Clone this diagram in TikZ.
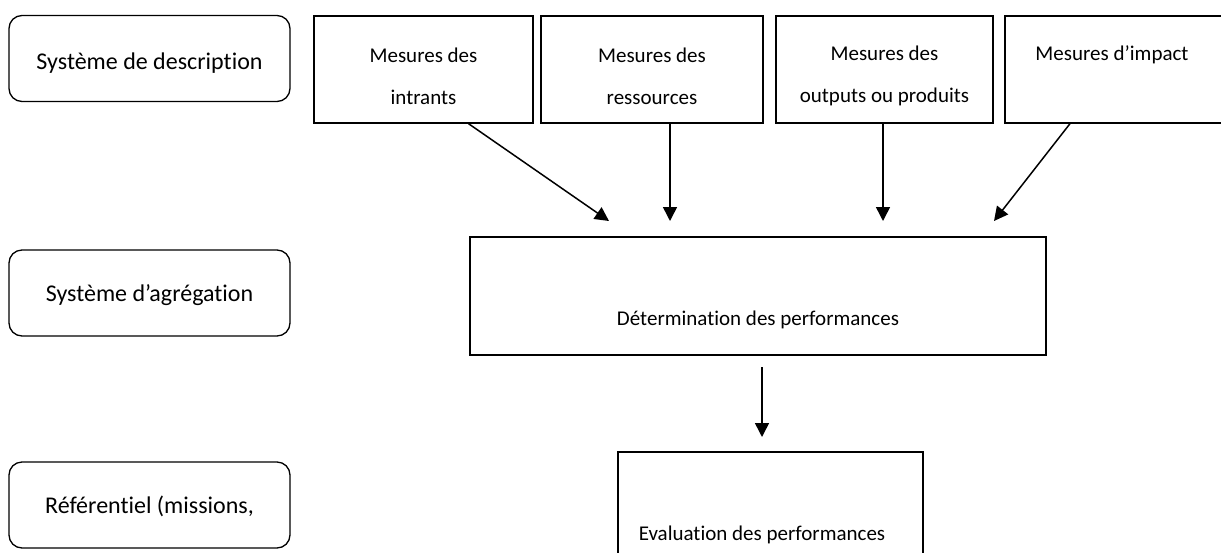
\documentclass[tikz,border=0pt]{standalone}
\usepackage{fontspec}
\setmainfont{Carlito}[Ligatures=NoCommon]
\usetikzlibrary{arrows.meta}
\tikzset{
    cadre/.style={ draw, line width=1.3pt, inner sep=0pt },
    systeme/.style={ cadre, rounded corners=13pt, minimum width=281pt, minimum height=86pt },
    mesure/.style={ cadre, minimum height=107pt },
    texte/.style={ inner sep=0pt, align=center, font=\fontsize{21}{42}\selectfont },
    grand/.style={ texte, font=\fontsize{24}{30}\selectfont },
    fleche/.style={ line width=1.5pt, -{Triangle[length=14pt,width=14pt]} }
}

\begin{document}
\begin{tikzpicture}[x=1pt, y=-1pt]
        \useasboundingbox (0,0) rectangle (1221,552);
        \clip (0,0) rectangle (1221,552);

        % colonne de gauche
        \node[systeme] (descr) at (149.5,58.5) {};
        \node[systeme] (agreg) at (149.5,293)  {};
        \node[systeme] (refer) at (149.5,505)  {};
        \node[grand] (t-descr) at (149.5,63)  {Système de description};
        \node[grand] (t-agreg) at (149.5,295) {Système d’agrégation};
        \node[grand] (t-refer) at (149.5,506) {Référentiel (missions,};

        % mesures
        \node[mesure, minimum width=219pt] (intrants)   at (423.5,69.5) {};
        \node[mesure, minimum width=222pt] (ressources) at (652,69.5)   {};
        \node[mesure, minimum width=217pt] (outputs)    at (884.5,69.5) {};
        \node[mesure, minimum width=220pt] (impact)     at (1115,69.5)  {};
        \node[texte] (t-intrants)   at (423.5,76) {Mesures des\\intrants};
        \node[texte] (t-ressources) at (652,76)   {Mesures des\\ressources};
        \node[texte] (t-outputs)    at (884.5,76) {Mesures des\\outputs ou produits};
        \node[texte] (t-impact)     at (1112,55)  {Mesures d’impact};

        \node[cadre, minimum width=576pt, minimum height=118pt] (perf) at (758,296) {};
        \node[cadre, minimum width=305pt, minimum height=124pt] (eval) at (770.5,514) {};
        \node[texte] (t-perf) at (758,320) {Détermination des performances};
        \node[texte] (t-eval) at (762,535) {Evaluation des performances};

        \coordinate (pA) at (609,221);
        \coordinate (pB) at (670,221);
        \coordinate (pC) at (883,221);
        \coordinate (pD) at (994,221);
        \coordinate (qA) at (762,367);
        \coordinate (qB) at (762,437);

        \draw[fleche] ([xshift=45pt]intrants.south) -- (pA);
        \draw[fleche] ([xshift=18pt]ressources.south) -- (pB);
        \draw[fleche] ([xshift=-1.5pt]outputs.south) -- (pC);
        \draw[fleche] ([xshift=-45pt]impact.south) -- (pD);
        \draw[fleche] (qA) -- (qB);
\end{tikzpicture}
\end{document}
